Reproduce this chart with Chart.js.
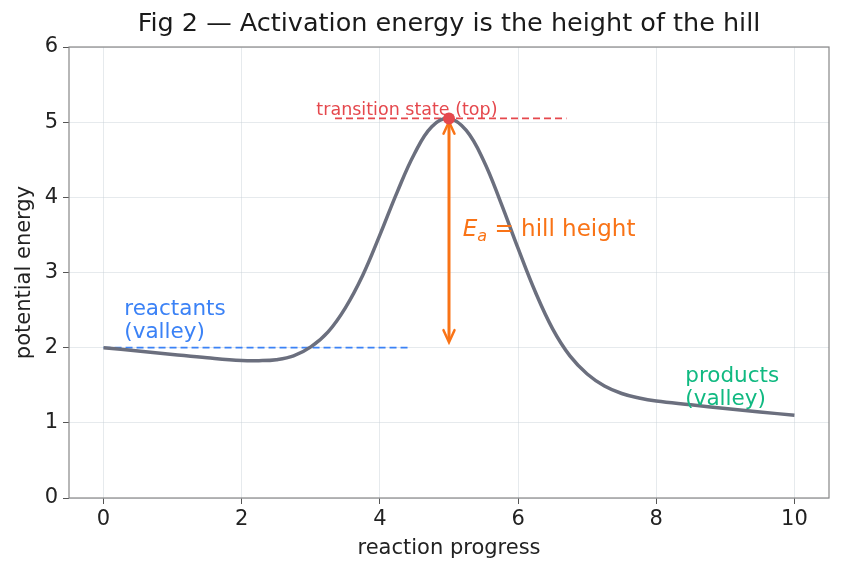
<!DOCTYPE html>
<html>
<head>
<meta charset="utf-8">
<script src="https://cdn.jsdelivr.net/npm/chart.js@4/dist/chart.umd.min.js"></script>
<style>
  html, body { margin: 0; padding: 0; background: #fff; }
  #wrap { width: 842px; height: 573px; }
</style>
</head>
<body>
<div id="wrap"><canvas id="hillChart" width="842" height="573"></canvas></div>
<script>
// reaction coordinate and energy
var progress = [0, 0.5, 1, 1.5, 2, 2.25, 2.5, 2.75, 3, 3.25, 3.5, 3.75, 4, 4.25, 4.5, 4.75, 5,
                5.25, 5.5, 5.75, 6, 6.25, 6.5, 6.75, 7, 7.25, 7.5, 7.75, 8, 8.5, 9, 9.5, 10];
var energy = [2.00, 1.955, 1.91, 1.866, 1.83, 1.827, 1.84, 1.89, 2.01, 2.21, 2.53, 2.96, 3.50, 4.07, 4.58, 4.94, 5.05,
              4.89, 4.49, 3.93, 3.32, 2.74, 2.25, 1.89, 1.65, 1.49, 1.39, 1.33, 1.29, 1.24, 1.19, 1.145, 1.10];

var reactantLevelX = [0, 4.45];
var reactantLevelY = [2.0, 2.0];
var topLevelX = [3.35, 6.7];
var topLevelY = [5.05, 5.05];
var transitionPoint = [5, 5.05];

var xTicks = [0, 2, 4, 6, 8, 10];
var yTicks = [0, 1, 2, 3, 4, 5, 6];

var FONT = "'DejaVu Sans', sans-serif";
var BLUE = '#3b82f6', RED = '#e5484d', ORANGE = '#f97316', GREEN = '#10b981', CURVE = '#6b6f7e';

function pairs(xs, ys) {
    return xs.map(function(x, i) { return {x: x, y: ys[i]}; });
}

var annotatePlugin = {
    id: 'annotate',
    beforeDatasetsDraw: function(chart) {
        var ctx = chart.ctx, a = chart.chartArea;
        ctx.save();
        ctx.strokeStyle = '#888';
        ctx.lineWidth = 1.2;
        ctx.strokeRect(a.left, a.top, a.right - a.left, a.bottom - a.top);
        ctx.restore();
    },
    afterDatasetsDraw: function(chart) {
        var ctx = chart.ctx;
        var xs = chart.scales.x, ys = chart.scales.y;
        ctx.save();

        // double arrow for Ea
        var ax = xs.getPixelForValue(transitionPoint[0]);
        var y1 = ys.getPixelForValue(5.02), y2 = ys.getPixelForValue(2.06);
        ctx.strokeStyle = ORANGE;
        ctx.fillStyle = ORANGE;
        ctx.lineWidth = 3;
        ctx.beginPath();
        ctx.moveTo(ax, y1 + 4);
        ctx.lineTo(ax, y2 - 4);
        ctx.stroke();
        ctx.lineWidth = 2.5;
        ctx.lineCap = 'round';
        ctx.beginPath();
        ctx.moveTo(ax - 5.5, y1 + 13); ctx.lineTo(ax, y1 + 1); ctx.lineTo(ax + 5.5, y1 + 13);
        ctx.moveTo(ax - 5.5, y2 - 13); ctx.lineTo(ax, y2 - 1); ctx.lineTo(ax + 5.5, y2 - 13);
        ctx.stroke();

        // red dot on top of the arrow
        ctx.fillStyle = RED;
        ctx.beginPath();
        ctx.arc(ax, ys.getPixelForValue(transitionPoint[1]), 6, 0, Math.PI * 2);
        ctx.fill();

        ctx.textBaseline = 'alphabetic';
        ctx.textAlign = 'left';

        // reactants
        ctx.fillStyle = BLUE;
        ctx.font = '21.5px ' + FONT;
        var rx = xs.getPixelForValue(0.3), ry = ys.getPixelForValue(2.13);
        ctx.fillText('reactants', rx, ry - 23);
        ctx.fillText('(valley)', rx, ry);

        // products
        ctx.fillStyle = GREEN;
        var px = xs.getPixelForValue(8.42), py = ys.getPixelForValue(1.24);
        ctx.fillText('products', px, py - 23);
        ctx.fillText('(valley)', px, py);

        // transition state label
        ctx.fillStyle = RED;
        ctx.font = '17.5px ' + FONT;
        ctx.fillText('transition state (top)', xs.getPixelForValue(3.08), ys.getPixelForValue(5.09));

        // Ea = hill height
        ctx.fillStyle = ORANGE;
        var ex = xs.getPixelForValue(5.2), ey = ys.getPixelForValue(3.49);
        ctx.font = 'italic 23px ' + FONT;
        ctx.fillText('E', ex, ey);
        var w = ctx.measureText('E').width;
        ctx.font = 'italic 16px ' + FONT;
        ctx.fillText('a', ex + w, ey + 5);
        w += ctx.measureText('a').width;
        ctx.font = '23px ' + FONT;
        ctx.fillText(' = hill height', ex + w, ey);

        ctx.restore();
    }
};

var ctx = document.getElementById('hillChart').getContext('2d');
var hillChart = new Chart(ctx, {
    type: 'line',
    data: {
        datasets: [{
            data: pairs(progress, energy),
            borderColor: CURVE,
            borderWidth: 3.5,
            pointRadius: 0,
            tension: 0.4,
            order: 1
        }, {
            data: pairs(reactantLevelX, reactantLevelY),
            borderColor: BLUE,
            borderWidth: 1.8,
            borderDash: [7, 4],
            pointRadius: 0,
            order: 3
        }, {
            data: pairs(topLevelX, topLevelY),
            borderColor: RED,
            borderWidth: 1.8,
            borderDash: [7, 4],
            pointRadius: 0,
            order: 3
        }]
    },
    options: {
        responsive: false,
        animation: false,
        layout: { padding: { left: 0, right: 13, top: 0, bottom: 0 } },
        plugins: {
            legend: { display: false },
            tooltip: { enabled: false },
            title: {
                display: true,
                fullSize: false,
                text: 'Fig 2 \u2014 Activation energy is the height of the hill',
                color: '#1a1a1a',
                font: { family: FONT, size: 25.5, weight: 'normal', lineHeight: 1.2 },
                padding: { top: 9, bottom: 7.4 }
            }
        },
        scales: {
            x: {
                type: 'linear',
                min: -0.5,
                max: 10.5,
                afterBuildTicks: function(scale) {
                    scale.ticks = xTicks.map(function(v) { return {value: v}; });
                },
                afterFit: function(scale) { scale.height = 75; },
                grid: { color: 'rgba(200,208,216,0.45)', tickColor: '#555', tickLength: 6, lineWidth: 1 },
                border: { display: false },
                ticks: { color: '#222', font: { family: FONT, size: 21 }, padding: 3, maxRotation: 0 },
                title: {
                    display: true,
                    text: 'reaction progress',
                    color: '#222',
                    font: { family: FONT, size: 21 },
                    padding: { top: 0, bottom: 12 }
                }
            },
            y: {
                min: 0,
                max: 6,
                afterBuildTicks: function(scale) {
                    scale.ticks = yTicks.map(function(v) { return {value: v}; });
                },
                afterFit: function(scale) { scale.width = 69; },
                grid: { color: 'rgba(200,208,216,0.45)', tickColor: '#555', tickLength: 6, lineWidth: 1 },
                border: { display: false },
                ticks: { color: '#222', font: { family: FONT, size: 21 }, padding: 5 },
                title: {
                    display: true,
                    text: 'potential energy',
                    color: '#222',
                    font: { family: FONT, size: 21 },
                    padding: { top: 12, bottom: 0 }
                }
            }
        }
    },
    plugins: [annotatePlugin]
});
</script>
</body>
</html>
